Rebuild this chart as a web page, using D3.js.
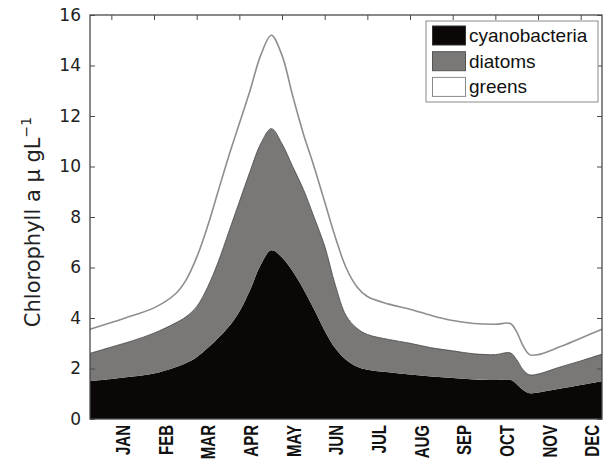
<!DOCTYPE html>
<html>
<head>
<meta charset="utf-8">
<script src="https://cdn.jsdelivr.net/npm/d3@7/dist/d3.min.js"></script>
<style>
  html, body { margin: 0; padding: 0; background: #fff; }
  svg { display: block; }
</style>
</head>
<body>
<svg id="chart" width="605" height="470"></svg>
<script>
// ---- data (x positions in month units, 0 = start of January, 12 = end of December)
const monthLabels = ["JAN","FEB","MAR","APR","MAY","JUN","JUL","AUG","SEP","OCT","NOV","DEC"];
const yTicks = [0, 2, 4, 6, 8, 10, 12, 14, 16];
const seriesNames = ["cyanobacteria", "diatoms", "greens"];
const timePos = [0,0.5,1,1.5,2,2.25,2.5,2.75,3,3.25,3.5,3.75,4,4.25,4.5,4.75,5,5.25,5.5,5.75,6,6.25,6.5,7,7.5,8,8.5,9,9.5,9.85,10,10.15,10.3,10.5,11,11.5,12];
const cyanobacteria = [1.5,1.58,1.68,1.8,2.05,2.22,2.45,2.8,3.2,3.65,4.25,5.1,6.1,6.68,6.4,5.85,5.15,4.35,3.5,2.8,2.35,2.08,1.95,1.85,1.76,1.68,1.62,1.56,1.54,1.55,1.38,1.15,1.02,1.05,1.2,1.35,1.5];
const diatoms = [1.1,1.27,1.42,1.6,1.75,1.83,2.0,2.4,3.0,3.75,4.35,4.7,4.8,4.82,4.5,4.15,3.95,3.65,3.35,2.5,1.75,1.52,1.4,1.3,1.24,1.14,1.08,1.02,1.01,1.07,0.97,0.8,0.73,0.73,0.85,0.95,1.07];
const greens = [0.95,0.97,1.0,1.0,1.15,1.45,1.95,2.4,2.8,3.0,3.1,3.2,3.5,3.7,3.5,2.8,2.2,2.0,1.75,1.9,1.9,1.65,1.5,1.4,1.35,1.28,1.2,1.2,1.2,1.16,1.1,0.95,0.8,0.77,0.8,0.9,0.98];

// ---- layout
const L = 90, R = 602, T = 15, B = 419;
const svg = d3.select("#chart");
const x = d3.scaleLinear().domain([0, 12]).range([L, R]);
const y = d3.scaleLinear().domain([0, 16]).range([B, T]);

const rows = timePos.map((t, i) => ({ t, cyanobacteria: cyanobacteria[i], diatoms: diatoms[i], greens: greens[i] }));
const stacked = d3.stack().keys(seriesNames)(rows);

const fills = { cyanobacteria: "#0b0707", diatoms: "#7a7777", greens: "#ffffff" };
const curve = d3.curveCatmullRom.alpha(0.5);
const area = d3.area().curve(curve).x(d => x(d.data.t)).y0(d => y(d[0])).y1(d => y(d[1]));
const topLine = d3.line().curve(curve).x(d => x(d.data.t)).y(d => y(d[1]));

const g = svg.append("g");
g.selectAll("path.area").data(stacked).join("path")
  .attr("class", "area")
  .attr("fill", d => fills[d.key])
  .attr("d", area);

// edge of diatoms layer
g.append("path").datum(stacked[1]).attr("d", topLine)
  .attr("fill", "none").attr("stroke", "#3c3a3a").attr("stroke-width", 0.8);
// outline of greens layer
g.append("path").datum(stacked[2]).attr("d", topLine)
  .attr("fill", "none").attr("stroke", "#8e8e8e").attr("stroke-width", 1.6);

// ---- axes
const axisColor = "#4a4a4a";
const monthTicks = monthLabels.map((m, i) => i + 0.5);

const yAxis = svg.append("g").attr("transform", `translate(${L},0)`)
  .call(d3.axisLeft(y).tickValues(yTicks).tickSize(-5).tickPadding(9).tickFormat(d3.format("d")));
yAxis.selectAll("text").attr("font-family", "DejaVu Sans").attr("font-size", 17).attr("fill", "#222");

const yAxisR = svg.append("g").attr("transform", `translate(${R},0)`)
  .call(d3.axisRight(y).tickValues(yTicks).tickSize(-5).tickFormat(""));

const xAxisT = svg.append("g").attr("transform", `translate(0,${T})`)
  .call(d3.axisTop(x).tickValues(monthTicks).tickSize(-5).tickFormat(""));

const xAxisB = svg.append("g").attr("transform", `translate(0,${B})`)
  .call(d3.axisBottom(x).tickValues(monthTicks).tickSize(0).tickFormat((d, i) => monthLabels[i]));
xAxisB.selectAll("text")
  .attr("font-family", "Liberation Sans, Arial, sans-serif")
  .attr("font-size", 15)
  .attr("font-weight", "bold")
  .attr("fill", "#111")
  .attr("text-anchor", "end")
  .attr("dy", null)
  .attr("y", null)
  .attr("transform", "translate(18,6) rotate(-90) scale(1,1.3)");

[yAxis, yAxisR, xAxisT, xAxisB].forEach(a => {
  a.select(".domain").remove();
  a.selectAll(".tick line").attr("stroke", axisColor).attr("stroke-width", 1);
});

svg.append("rect").attr("x", L).attr("y", T).attr("width", R - L).attr("height", B - T)
  .attr("fill", "none").attr("stroke", axisColor).attr("stroke-width", 1.3);

// ---- y label
const yl = svg.append("text")
  .attr("transform", `translate(40,222) rotate(-90)`)
  .attr("text-anchor", "middle")
  .attr("font-family", "DejaVu Sans")
  .attr("font-size", 21)
  .attr("fill", "#222");
yl.append("tspan").text("Chlorophyll a \u03bc gL");
yl.append("tspan").attr("font-size", 14).attr("dy", -9).text("\u22121");

// ---- legend
const lg = svg.append("g");
lg.append("rect").attr("x", 426).attr("y", 21).attr("width", 172).attr("height", 81)
  .attr("fill", "#fff").attr("stroke", "#8a8a8a").attr("stroke-width", 1);
const swStroke = { cyanobacteria: "#333", diatoms: "#555", greens: "#8a8a8a" };
seriesNames.forEach((s, i) => {
  const cy = 26 + i * 25.7;
  lg.append("rect").attr("x", 432.5).attr("y", cy).attr("width", 33).attr("height", 19)
    .attr("fill", fills[s]).attr("stroke", swStroke[s]).attr("stroke-width", 1);
  lg.append("text").attr("x", 469).attr("y", cy + 16)
    .attr("font-family", "Liberation Sans, Arial, sans-serif").attr("font-size", 19)
    .attr("fill", "#111").text(s);
});
</script>
</body>
</html>
